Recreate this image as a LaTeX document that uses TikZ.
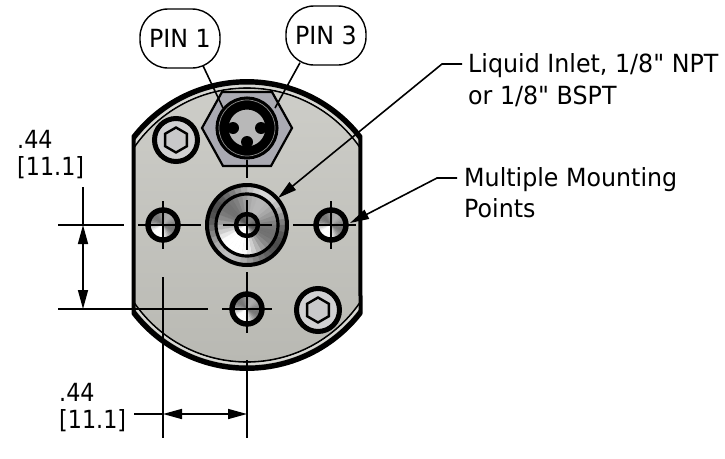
\documentclass[tikz,border=0pt]{standalone}
\usepackage{fontspec}
\newfontfamily\lblfont{DejaVu Sans}[FakeStretch=0.95]
\newfontfamily\dimfont{DejaVu Sans}[FakeStretch=0.89]
\usetikzlibrary{arrows.meta,calc}
\newcommand{\conicfill}[6]{%
  \foreach \ang in {0,10,...,350}{%
    \pgfmathsetmacro\gv{max(0,min(1,#4+#5*cos(\ang+5-240)+#6*cos(2*(\ang+5-240))))}%
    \pgfmathsetmacro\pc{100*(1-\gv)}%
    \fill[black!\pc,draw=black!\pc,line width=.3pt] (#1,#2) -- ({#1+#3*cos(\ang)},{#2-#3*sin(\ang)}) -- ({#1+#3*cos(\ang+10)},{#2-#3*sin(\ang+10)}) -- cycle;
  }}
\newcommand{\holemark}[2]{%
  \conicfill{#1}{#2}{14}{.68}{.2}{.2}
  \draw[holering] (#1,#2) circle[radius=15];
}
\newcommand{\boltmark}[3]{%
  \fill[boltface] (#1,#2) circle[radius=20];
  \draw[line width=5pt] (#1,#2) circle[radius=21.5];
  \draw[line width=2.4pt,line join=miter,fill=boltface!90!gray] 
    ($(#1,#2)+(#3:12.5)$) -- ($(#1,#2)+(#3+60:12.5)$) -- ($(#1,#2)+(#3+120:12.5)$) -- ($(#1,#2)+(#3+180:12.5)$) -- ($(#1,#2)+(#3+240:12.5)$) -- ($(#1,#2)+(#3+300:12.5)$) -- cycle;
}
\definecolor{bodylight}{RGB}{206,206,201}
\definecolor{bodydark}{RGB}{184,184,178}
\definecolor{boltface}{RGB}{208,208,210}
\definecolor{hexgray}{RGB}{170,170,178}
\tikzset{
  holering/.style={line width=5.4pt,draw=black},
  cl/.style={line width=1.6pt,draw=black},
  thinleader/.style={line width=1.6pt,draw=black},
  tip/.style={-{Triangle[length=19pt,width=10pt]},line width=1.6pt,draw=black},
  bubble/.style={draw=black,line width=1.4pt,rounded corners=28pt,minimum width=80pt,minimum height=59pt,inner sep=0pt,fill=white},
  lbl/.style={anchor=base west,inner sep=0pt,font=\lblfont\fontsize{25}{27}\selectfont},
  dimlbl/.style={anchor=base west,inner sep=0pt,font=\dimfont\fontsize{25}{27}\selectfont},
  bubtxt/.style={font=\lblfont\fontsize{25}{27}\selectfont},
}
\begin{document}
\begin{tikzpicture}[x=1pt,y=-1pt]
\useasboundingbox (0,0) rectangle (725,458);
% body
\path[shade,top color=bodylight,bottom color=bodydark]
  (133.5,136.4) arc[start angle=-142,end angle=-38,radius=144] -- (360.5,313.6) arc[start angle=38,end angle=142,radius=144] -- cycle;
\begin{scope}
\clip (133.5,136.4) arc[start angle=-142,end angle=-38,radius=144] -- (360.5,313.6) arc[start angle=38,end angle=142,radius=144] -- cycle;
\draw[line width=1.6pt] (247,225) circle[radius=137];
\draw[line width=2pt,draw=bodylight!80!white] (247,225) circle[radius=139];
\draw[line width=3pt] (247,225) circle[radius=142];
\end{scope}
\draw[line width=4pt,line join=round]
  (133.5,136.4) arc[start angle=-142,end angle=-38,radius=144] -- (360.5,313.6) arc[start angle=38,end angle=142,radius=144] -- cycle;
% hex connector
\draw[line width=2.2pt,line join=miter,fill=hexgray] (202,128) -- (222,92) -- (272,92) -- (292,128) -- (271,166) -- (223,166) -- cycle;
\fill[black!28] (247,128) circle[radius=20];
\draw[line width=13pt] (247,128) circle[radius=25];
\draw[line width=.7pt,draw=black!45] (247,128) circle[radius=28];
\fill[black] (233,128) circle[radius=6] (261,128) circle[radius=6] (247,142) circle[radius=6];
% bolts
\boltmark{176}{140}{30}
\boltmark{318}{310}{30}
% holes
\holemark{163}{225}
\holemark{331}{225}
\holemark{247}{309}
% center port
\conicfill{247}{225}{40}{.55}{-.05}{.25}
\conicfill{247}{225}{31}{.68}{.18}{.22}
\draw[line width=4pt] (247,225) circle[radius=40];
\draw[line width=3.2pt] (247,225) circle[radius=31];
\conicfill{247}{225}{10}{.6}{.3}{.2}
\draw[line width=4.4pt] (247,225) circle[radius=11];
% centre lines
\coordinate (vA) at (247,160); \coordinate (vB) at (247,178);
\draw[cl] (vA) -- (vB);
\draw[cl] (247,200) -- (247,250);
\draw[cl] (223,225) -- (272,225);
\draw[cl] (247,272) -- (247,333);
\draw[cl] (138,225) -- (201,225);
\draw[cl] (293,225) -- (356,225);
\draw[cl] (163,201) -- (163,249);
\draw[cl] (331,201) -- (331,249);
\draw[cl] (222,309) -- (272,309);
% extension lines
\draw[cl] (58,225) -- (124,225);
\draw[cl] (58,309) -- (208,309);
\draw[cl] (163,277) -- (163,438);
\draw[cl] (247,360) -- (247,438);
% dimensions
\coordinate (dimL) at (83,267);
\draw[cl] (83,187) -- (83,225);
\draw[tip] (dimL) -- (83,225);
\draw[tip] (dimL) -- (83,309);
\coordinate (dimB) at (205,414);
\draw[cl] (134,414) -- (163,414);
\draw[tip] (dimB) -- (163,414);
\draw[tip] (dimB) -- (247,414);
% bubbles
\node[bubble,bubtxt] (pinA) at (180,38.5) {PIN 1};
\node[bubble,bubtxt] (pinC) at (326,35.5) {PIN 3};
\coordinate (pinAend) at (223,108);
\coordinate (pinCend) at (275,108);
\draw[thinleader] (pinA.south) ++(23,-3) coordinate (pa) (pa) -- (pinAend);
\draw[thinleader] (pinC.south) ++(-26,-3) coordinate (pc) (pc) -- (pinCend);
% callouts
\node[lbl] (liq) at (468,72) {Liquid Inlet, 1/8" NPT};
\node[lbl] (liqb) at (468,104) {or 1/8" BSPT};
\node[lbl] (mul) at (464,186) {Multiple Mounting};
\node[lbl] (pts) at (464,217) {Points};
\coordinate (liqK) at (442,64); \coordinate (mulK) at (437,178);
\coordinate (liqT) at (278,198); \coordinate (mulT) at (350,223);
\draw[tip] (462,64) -- (liqK) -- (liqT);
\draw[tip] (457,178) -- (mulK) -- (mulT);
% dimension text
\node[dimlbl] (dA) at (17,148) {.44};
\node[dimlbl] (dB) at (17,175) {[11.1]};
\node[dimlbl] (dC) at (59,401) {.44};
\node[dimlbl] (dD) at (59,428) {[11.1]};
\end{tikzpicture}
\end{document}
